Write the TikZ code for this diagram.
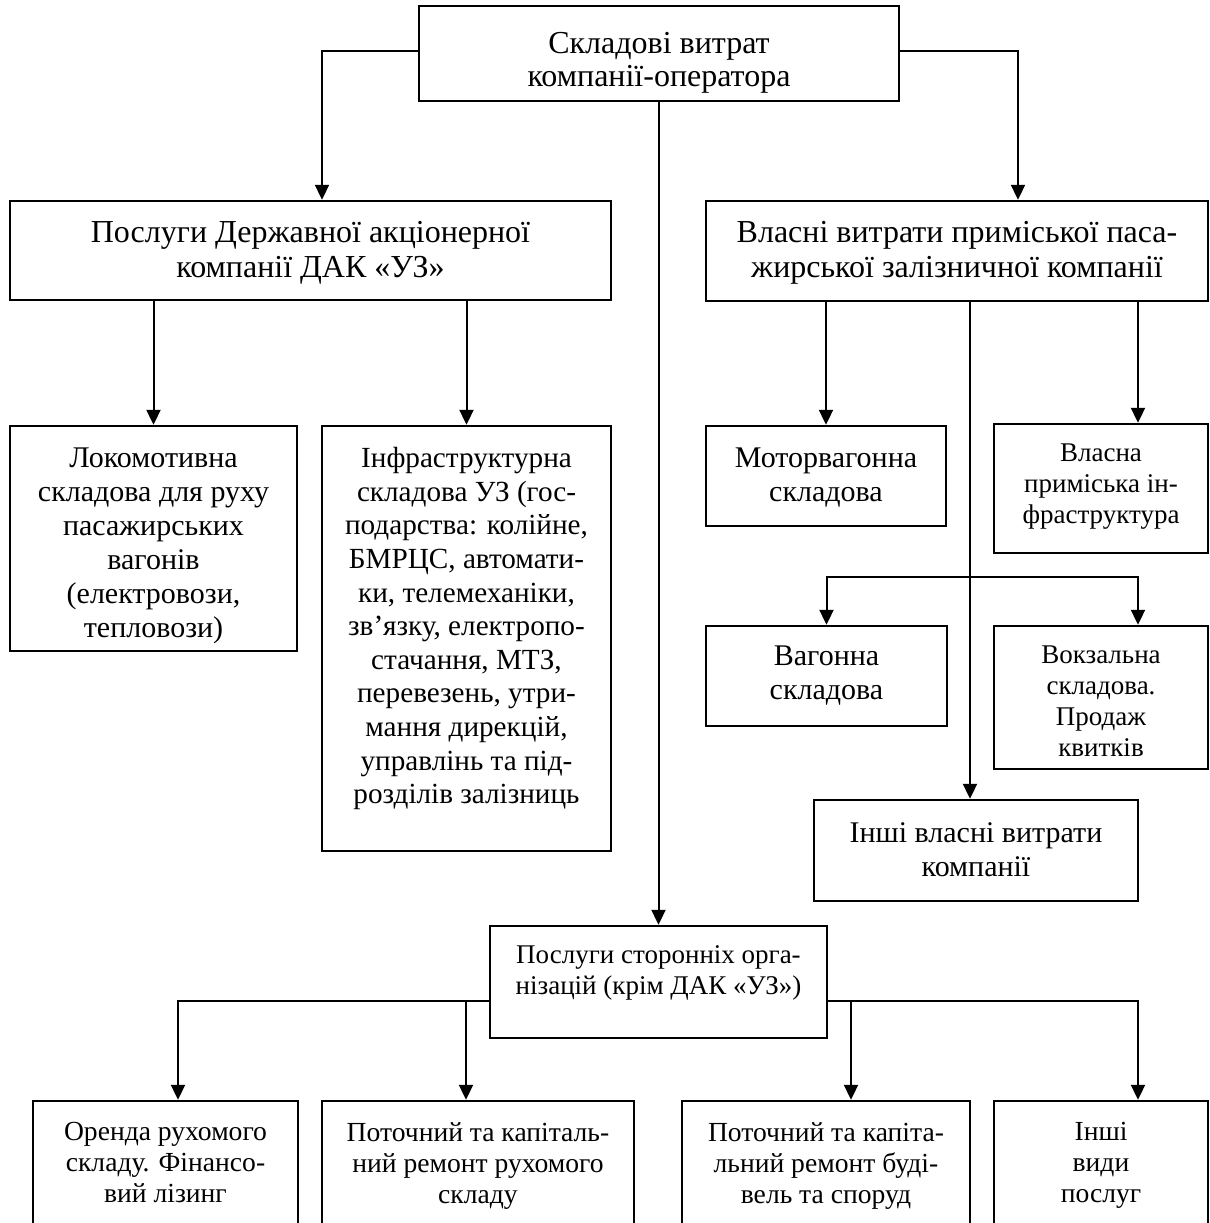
\documentclass[tikz,border=0pt]{standalone}
\usepackage{fontspec}
\setmainfont{Liberation Serif}
\usetikzlibrary{arrows.meta,fit,calc}
\tikzset{
  boxst/.style={draw, line width=1.2pt, inner sep=0pt},
  txtbase/.style={anchor=north, align=center, inner sep=0pt},
  txtL/.style={txtbase, font=\fontsize{16}{17.3}\selectfont},
  txtA/.style={txtbase, font=\fontsize{15}{17}\selectfont},
  txtE/.style={txtbase, font=\fontsize{14.6}{16.8}\selectfont},
  txtB/.style={txtbase, font=\fontsize{13.5}{15.5}\selectfont},
  txtR/.style={txtbase, font=\fontsize{13.8}{15.5}\selectfont},
  arr/.style={line width=1pt, -{Triangle[length=7.5pt,width=7pt]}},
}
\begin{document}
\begin{tikzpicture}[x=0.5pt,y=-0.5pt]
\useasboundingbox (0,0) rectangle (1210,1223);
\clip (0,0) rectangle (1210,1223);
% boxes
\node[boxst, fit={(419,6) (899,101)}] (T) {};
\node[boxst, fit={(10,201) (611,300)}] (B) {};
\node[boxst, fit={(706,201) (1208,301)}] (C) {};
\node[boxst, fit={(10,426) (297,651)}] (D) {};
\node[boxst, fit={(322,426) (611,851)}] (E) {};
\node[boxst, fit={(706,426) (946,526)}] (M) {};
\node[boxst, fit={(994,424) (1208,553)}] (V) {};
\node[boxst, fit={(706,626) (947,726)}] (W) {};
\node[boxst, fit={(994,626) (1208,769)}] (K) {};
\node[boxst, fit={(814,800) (1138,901)}] (O) {};
\node[boxst, fit={(490,926) (827,1038)}] (S) {};
\node[boxst, fit={(33,1101) (298,1240)}] (R1) {};
\node[boxst, fit={(322,1101) (634,1240)}] (R2) {};
\node[boxst, fit={(682,1101) (970,1240)}] (R3) {};
\node[boxst, fit={(994,1101) (1208,1240)}] (R4) {};
% texts
\node[txtL, font=\fontsize{16}{16.5}\selectfont] (Tt) at (T.center |- 0,32) {Складові витрат\\компанії-оператора};
\node[txtL] (Bt) at (B.center |- 0,221) {Послуги Державної акціонерної\\компанії ДАК «УЗ»};
\node[txtL] (Ct) at (C.center |- 0,221) {Власні витрати приміської паса-\\жирської залізничної компанії};
\node[txtA] (Dt) at (D.center |- 0,447) {Локомотивна\\складова для руху\\пасажирських\\вагонів\\(електровози,\\тепловози)};
\node[txtE] (Et) at (E.center |- 0,447) {Інфраструктурна\\складова УЗ (гос-\\подарства: колійне,\\БМРЦС, автомати-\\ки, телемеханіки,\\зв’язку, електропо-\\стачання, МТЗ,\\перевезень, утри-\\мання дирекцій,\\управлінь та під-\\розділів залізниць};
\node[txtA] (Mt) at (M.center |- 0,447) {Моторвагонна\\складова};
\node[txtB] (Vt) at (V.center |- 0,443) {Власна\\приміська ін-\\фраструктура};
\node[txtA] (Wt) at (W.center |- 0,645) {Вагонна\\складова};
\node[txtB] (Kt) at (K.center |- 0,645) {Вокзальна\\складова.\\Продаж\\квитків};
\node[txtA] (Ot) at (O.center |- 0,822) {Інші власні витрати\\компанії};
\node[txtB] (St) at (S.center |- 0,945) {Послуги сторонніх орга-\\нізацій (крім ДАК «УЗ»)};
\node[txtR] (R1t) at (R1.center |- 0,1122) {Оренда рухомого\\складу. Фінансо-\\вий лізинг};
\node[txtR] (R2t) at (R2.center |- 0,1122) {Поточний та капіталь-\\ний ремонт рухомого\\складу};
\node[txtR] (R3t) at (R3.center |- 0,1122) {Поточний та капіта-\\льний ремонт буді-\\вель та споруд};
\node[txtR] (R4t) at (R4.center |- 0,1122) {Інші\\види\\послуг};
% helper coordinates
\coordinate (yT) at (0,51);
\coordinate (xB) at (322,0);
\coordinate (xC) at (1018,0);
\coordinate (xO) at (970,0);
\coordinate (xV) at (1138,0);
\coordinate (j) at (970,577);
\coordinate (yS) at (0,1001);
\coordinate (xR1) at (178,0);
\coordinate (xR2) at (466,0);
\coordinate (xR3) at (851,0);
\coordinate (xR4) at (1138,0);
% connectors
\draw[arr] (T.west |- yT) -| (xB |- B.north);
\draw[arr] (T.east |- yT) -| (xC |- C.north);
\draw[arr] (S.north |- T.south) -- (S.north);
\draw[arr] (D.north |- B.south) -- (D.north);
\draw[arr] (E.north |- B.south) -- (E.north);
\draw[arr] (M.north |- C.south) -- (M.north);
\draw[arr] (xV |- C.south) -- (xV |- V.north);
\draw[arr] (xO |- C.south) -- (xO |- O.north);
\draw[arr] (j) -| (W.north);
\draw[arr] (j) -| (xV |- K.north);
\draw[arr] (S.west |- yS) -| (xR1 |- R1.north);
\draw[arr] (xR2 |- yS) -- (xR2 |- R2.north);
\draw[arr] (S.east |- yS) -| (xR4 |- R4.north);
\draw[arr] (xR3 |- yS) -- (xR3 |- R3.north);
\end{tikzpicture}
\end{document}
